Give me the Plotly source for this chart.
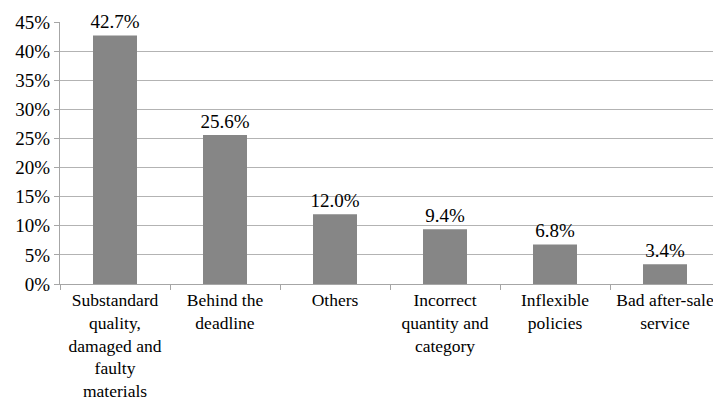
import plotly.graph_objects as go

categories = [
    "Substandard<br>quality,<br>damaged and<br>faulty<br>materials",
    "Behind the<br>deadline",
    "Others",
    "Incorrect<br>quantity and<br>category",
    "Inflexible<br>policies",
    "Bad after-sale<br>service",
]
values = [42.7, 25.6, 12.0, 9.4, 6.8, 3.4]
labels = [f"{v:.1f}%" for v in values]
y_ticks = [0, 5, 10, 15, 20, 25, 30, 35, 40, 45]
y_tick_text = [f"{t}%" for t in y_ticks]

font_family = "Liberation Serif"

fig = go.Figure(
    go.Bar(
        x=categories,
        y=values,
        text=labels,
        textposition="outside",
        constraintext="none",
        cliponaxis=False,
        marker=dict(color="#868686", line=dict(width=0)),
        textfont=dict(family=font_family, size=19, color="#000000"),
    )
)

# page body has an 8px default margin; figure sized to fill the remaining window
fig.update_layout(
    width=713,
    height=396,
    margin=dict(l=52, r=1, t=14, b=120, autoexpand=False),
    paper_bgcolor="white",
    plot_bgcolor="white",
    bargap=0.6,
    showlegend=False,
    font=dict(family=font_family, size=19, color="#000000"),
)

fig.update_xaxes(
    automargin=False,
    showline=True,
    linecolor="#a6a6a6",
    linewidth=1,
    ticks="outside",
    tickson="boundaries",
    ticklen=5,
    tickcolor="#a6a6a6",
    showgrid=False,
    tickangle=0,
    tickfont=dict(family=font_family, size=17.5),
)

fig.update_yaxes(
    automargin=False,
    range=[0, 45],
    tickvals=y_ticks,
    ticktext=y_tick_text,
    showline=True,
    linecolor="#a6a6a6",
    linewidth=1,
    ticks="outside",
    ticklen=5,
    tickcolor="#a6a6a6",
    showgrid=True,
    gridcolor="#b3b3b3",
    gridwidth=1,
    zeroline=False,
    tickfont=dict(family=font_family, size=19),
)

fig.write_html("out.html")
